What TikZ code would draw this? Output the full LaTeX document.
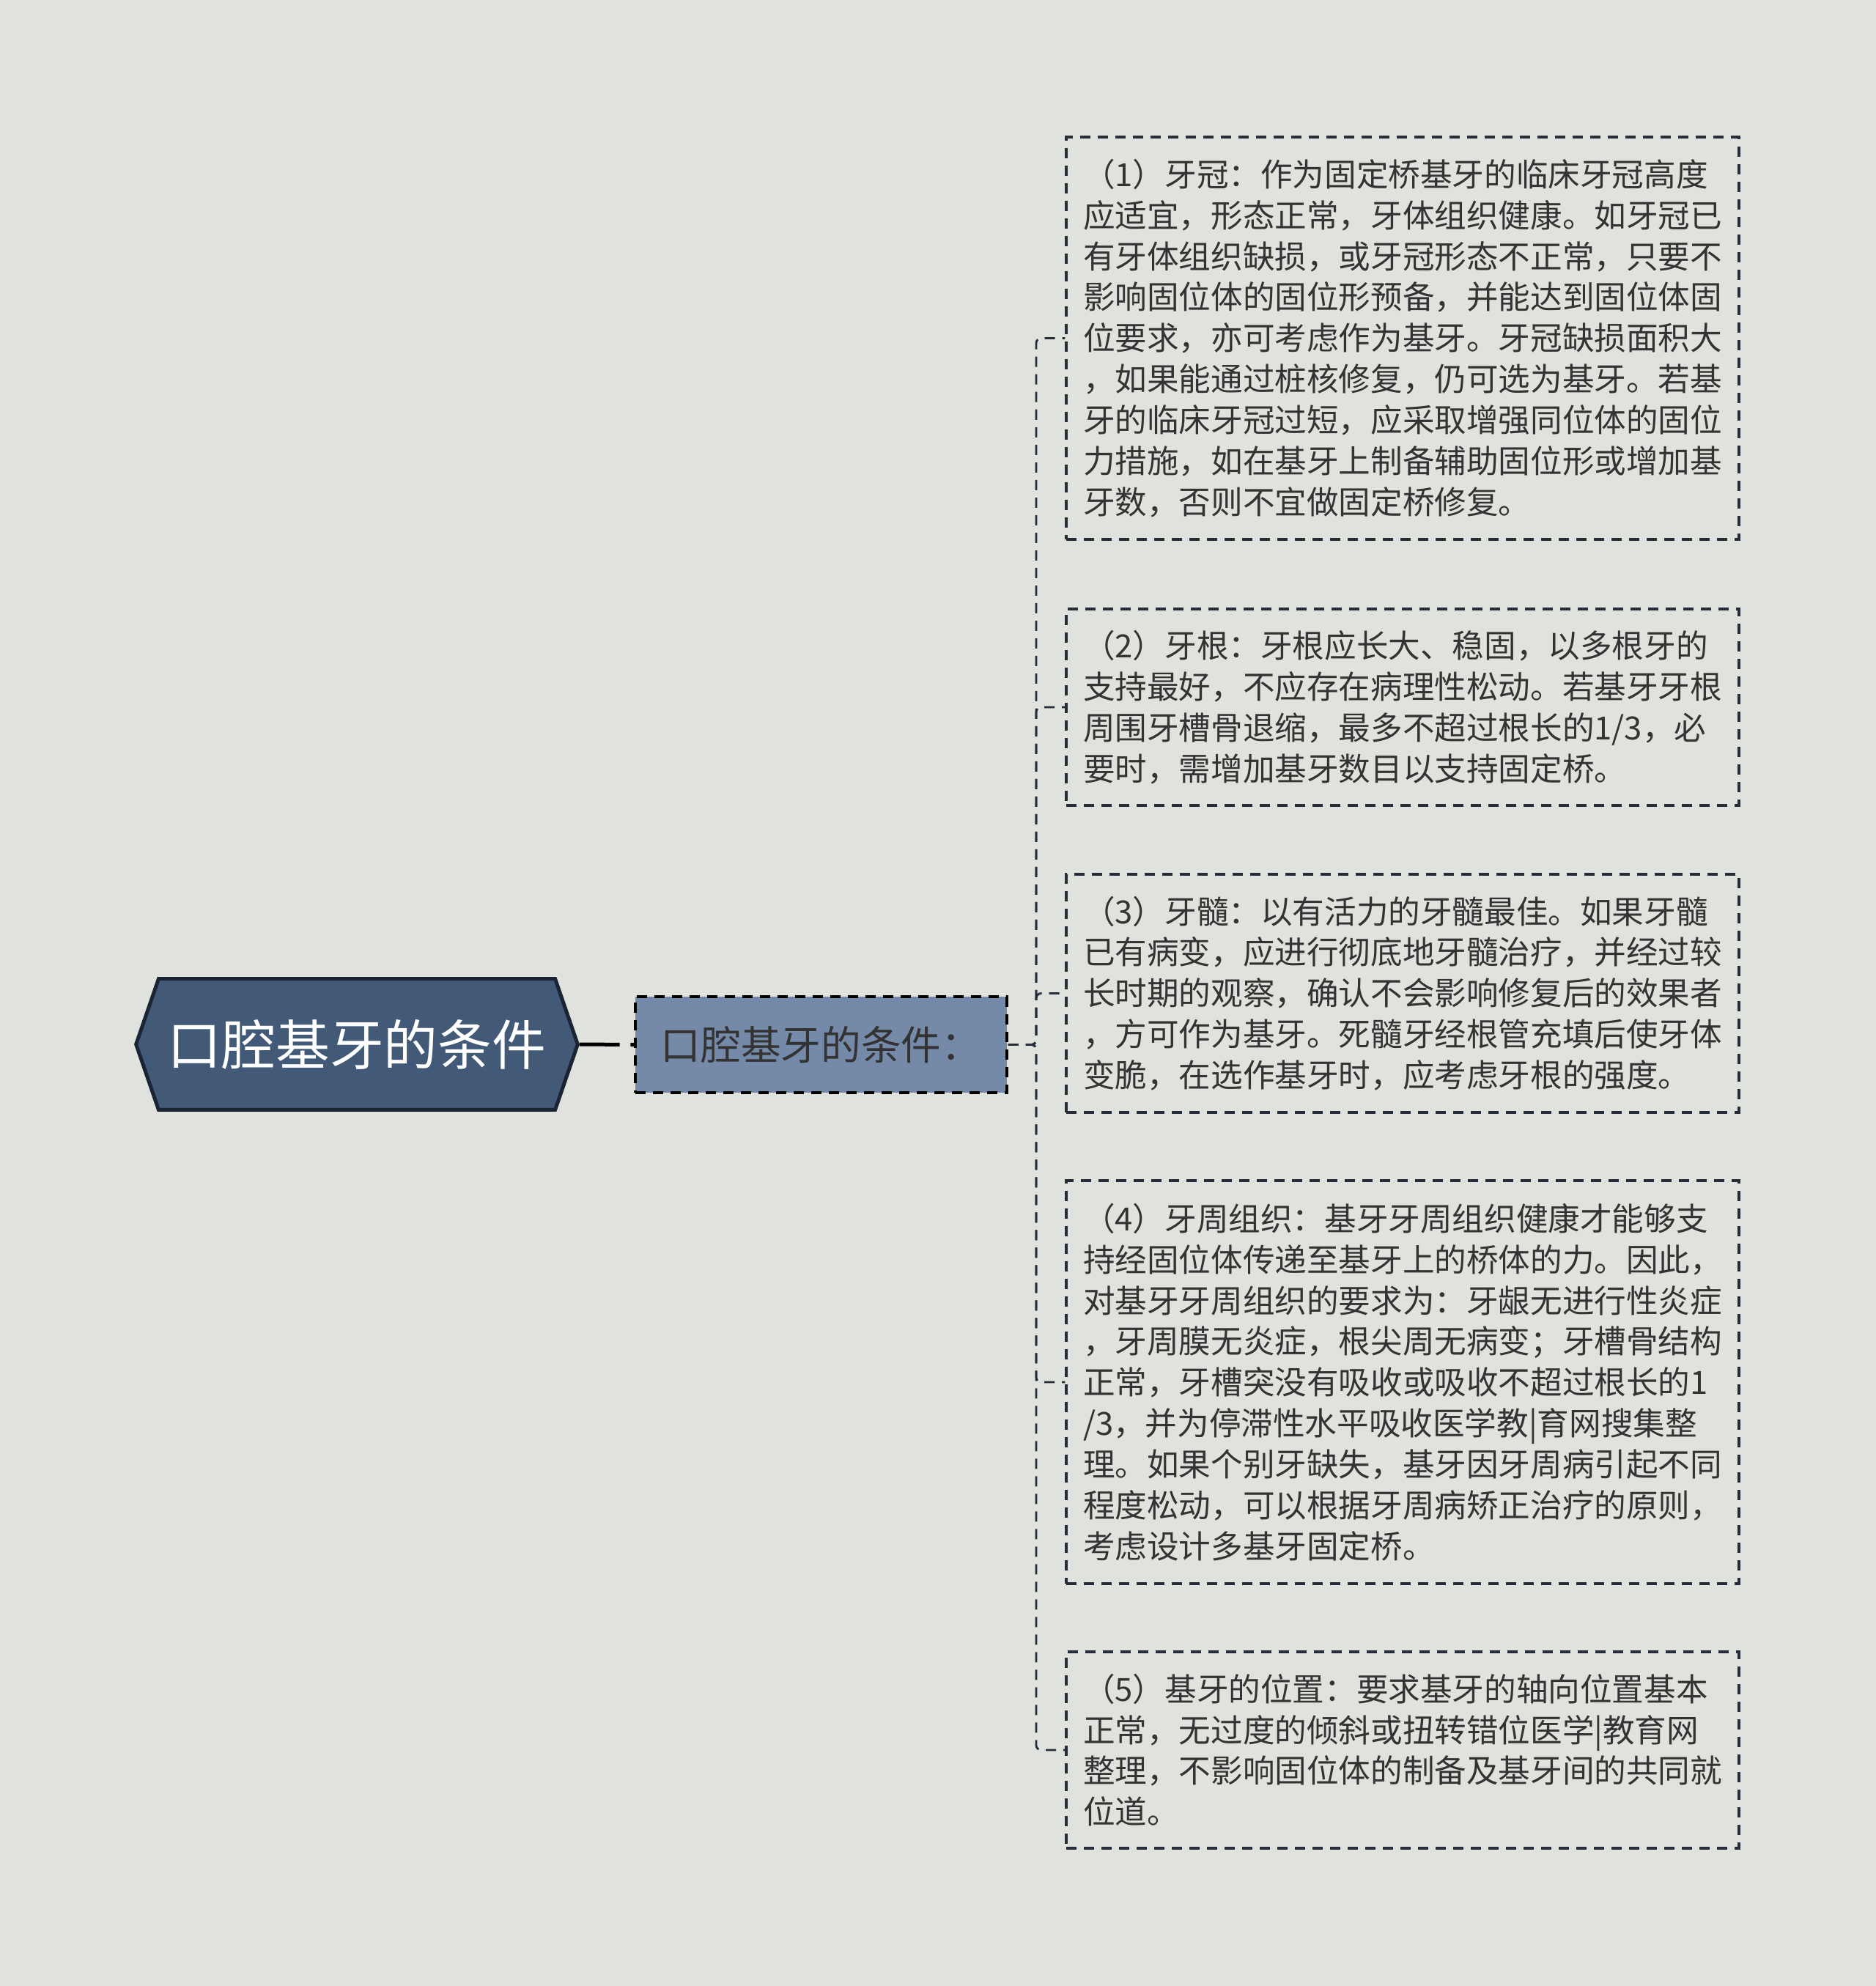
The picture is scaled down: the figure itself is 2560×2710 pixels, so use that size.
\documentclass[tikz,border=0pt]{standalone}
\usepackage{fontspec}
\newfontfamily\cjk{Noto Sans CJK SC}
\usetikzlibrary{shapes.symbols}
\setlength{\parindent}{0pt}

\definecolor{bgcol}{RGB}{224,226,221}
\definecolor{rootfill}{RGB}{66,90,120}
\definecolor{rootline}{RGB}{26,36,52}
\definecolor{midfill}{RGB}{117,138,168}
\definecolor{txtcol}{RGB}{51,51,51}
\definecolor{linecol}{RGB}{38,44,56}

\tikzset{every picture/.style={line width=0.75pt}}
\tikzset{
  rootnode/.style={shape=signal, signal to=west and east, signal pointer angle=142,
    fill=rootfill, draw=rootline, line width=3.75pt, inner sep=0pt,
    minimum width=452pt, minimum height=134pt, text=white,
    font=\cjk\fontsize{55.3}{66}\selectfont},
  midnode/.style={rectangle, fill=midfill, draw=black, line width=3pt,
    dash pattern={on 10.5pt off 7.5pt}, minimum width=380pt, minimum height=98pt,
    text=txtcol, font=\cjk\fontsize{41}{49}\selectfont},
  leafbox/.style={rectangle, draw=linecol, line width=2.4pt,
    dash pattern={on 10.5pt off 7.5pt}, minimum width=688.5pt,
    inner xsep=17.25pt, inner ysep=0pt, text width=654pt, align=left,
    text=txtcol, font=\cjk\fontsize{32.7}{41.9}\selectfont},
  link/.style={draw=linecol, line width=2.1pt, dash pattern={on 10.5pt off 7.5pt}, rounded corners=5pt},
  rootlink/.style={draw=black, line width=3.75pt, dash pattern={on 41pt off 11pt}}
}

\begin{document}
\begin{tikzpicture}[x=0.75pt,y=0.75pt,yscale=-1,xscale=1]
	%Shape: background
	\fill[bgcol] (0,0) rectangle (2560,2710);
	\useasboundingbox (0,0) rectangle (2560,2710);
	
	% Root Node
	\node[rootnode] (root) at (487,1425) {口腔基牙的条件};
	% Middle Node
	\node[midnode] (mid) at (1120.5,1425.5) {口腔基牙的条件：};
	
	% Text Node
	\node[leafbox, minimum height=411.75pt] (c1) at (1914,461.5) {（1）牙冠：作为固定桥基牙的临床牙冠高度\\应适宜，形态正常，牙体组织健康。如牙冠已\\有牙体组织缺损，或牙冠形态不正常，只要不\\影响固位体的固位形预备，并能达到固位体固\\位要求，亦可考虑作为基牙。牙冠缺损面积大\\，如果能通过桩核修复，仍可选为基牙。若基\\牙的临床牙冠过短，应采取增强同位体的固位\\力措施，如在基牙上制备辅助固位形或增加基\\牙数，否则不宜做固定桥修复。};
	% Text Node
	\node[leafbox, minimum height=201pt] (c2) at (1914,965) {（2）牙根：牙根应长大、稳固，以多根牙的\\支持最好，不应存在病理性松动。若基牙牙根\\周围牙槽骨退缩，最多不超过根长的1/3，必\\要时，需增加基牙数目以支持固定桥。};
	% Text Node
	\node[leafbox, minimum height=243.75pt] (c3) at (1914,1355.5) {（3）牙髓：以有活力的牙髓最佳。如果牙髓\\已有病变，应进行彻底地牙髓治疗，并经过较\\长时期的观察，确认不会影响修复后的效果者\\，方可作为基牙。死髓牙经根管充填后使牙体\\变脆，在选作基牙时，应考虑牙根的强度。};
	% Text Node
	\node[leafbox, minimum height=412.5pt] (c4) at (1914,1886) {（4）牙周组织：基牙牙周组织健康才能够支\\持经固位体传递至基牙上的桥体的力。因此，\\对基牙牙周组织的要求为：牙龈无进行性炎症\\，牙周膜无炎症，根尖周无病变；牙槽骨结构\\正常，牙槽突没有吸收或吸收不超过根长的1\\/3，并为停滞性水平吸收医学教|育网搜集整\\理。如果个别牙缺失，基牙因牙周病引起不同\\程度松动，可以根据牙周病矫正治疗的原则，\\考虑设计多基牙固定桥。};
	% Text Node
	\node[leafbox, minimum height=201pt] (c5) at (1914,2388) {（5）基牙的位置：要求基牙的轴向位置基本\\正常，无过度的倾斜或扭转错位医学|教育网\\整理，不影响固位体的制备及基牙间的共同就\\位道。};
	
	%Straight Lines
	\coordinate (trunk) at (1414,1425.5);
	\draw[rootlink] (root.east) -- (mid.west);
	\foreach \n in {c1,c2,c3,c4,c5}
	  \draw[link] (mid.east) -- (trunk) |- (\n.west);
	
\end{tikzpicture}
\end{document}
